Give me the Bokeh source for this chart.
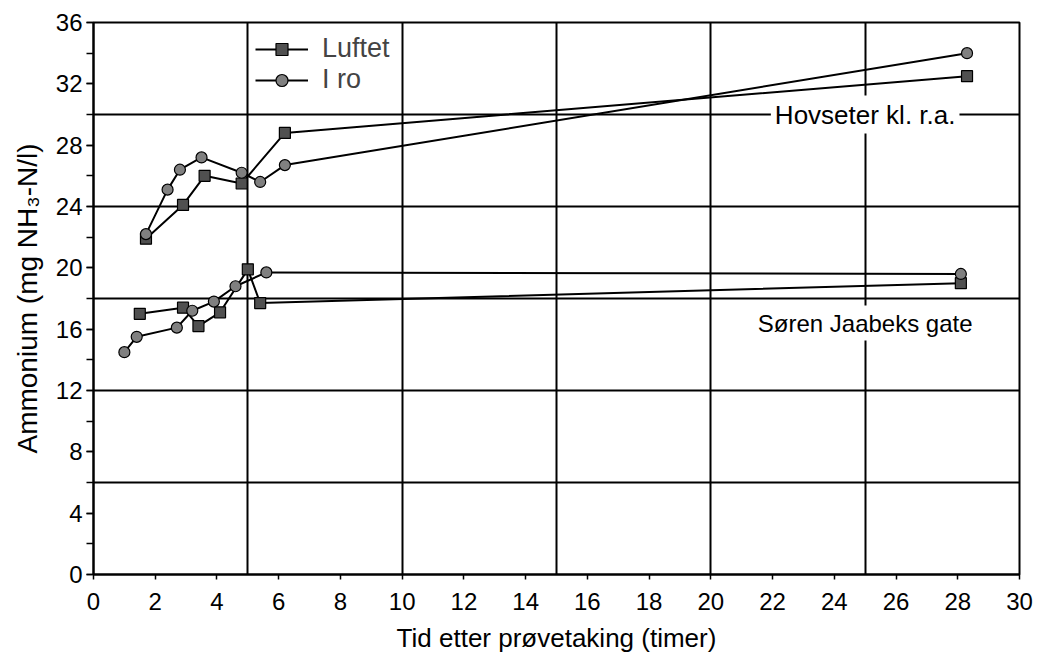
from bokeh.plotting import figure
from bokeh.models import (Range1d, SingleIntervalTicker, FixedTicker, Label,
                          Legend, LegendItem)
from bokeh.embed import file_html
from bokeh.resources import INLINE

# ---- data ----
hov_luftet_x = [1.7, 2.9, 3.6, 4.8, 6.2, 28.3]
hov_luftet_y = [21.9, 24.1, 26.0, 25.5, 28.8, 32.5]
hov_iro_x = [1.7, 2.4, 2.8, 3.5, 4.8, 5.4, 6.2, 28.3]
hov_iro_y = [22.2, 25.1, 26.4, 27.2, 26.2, 25.6, 26.7, 34.0]
sor_luftet_x = [1.5, 2.9, 3.4, 4.1, 5.0, 5.4, 28.1]
sor_luftet_y = [17.0, 17.4, 16.2, 17.1, 19.9, 17.7, 19.0]
sor_iro_x = [1.0, 1.4, 2.7, 3.2, 3.9, 4.6, 5.6, 28.1]
sor_iro_y = [14.5, 15.5, 16.1, 17.2, 17.8, 18.8, 19.7, 19.6]

series_names = ["Luftet", "I ro"]
station_names = ["Hovseter kl. r.a.", "Søren Jaabeks gate"]
x_title = "Tid etter prøvetaking (timer)"
y_title = "Ammonium (mg NH₃-N/l)"

FONT = "Liberation Sans"

p = figure(width=1035, height=655, output_backend="svg", toolbar_location=None,
           x_range=Range1d(0, 30), y_range=Range1d(0, 36),
           min_border_left=93, min_border_right=16, min_border_top=22,
           min_border_bottom=81, background_fill_color="white",
           border_fill_color="white")

p.outline_line_color = "black"
p.outline_line_width = 2
p.outline_line_alpha = 1

# grid
p.xgrid.ticker = FixedTicker(ticks=[5, 10, 15, 20, 25])
p.ygrid.ticker = FixedTicker(ticks=[6, 12, 18, 24, 30])
for g in (p.xgrid, p.ygrid):
    g.grid_line_color = "black"
    g.grid_line_width = 2
    g.grid_line_alpha = 1

# axes
p.xaxis.ticker = SingleIntervalTicker(interval=2, num_minor_ticks=0)
p.yaxis.ticker = SingleIntervalTicker(interval=4, num_minor_ticks=2)
for ax in (p.xaxis, p.yaxis):
    ax.axis_line_color = "black"
    ax.axis_line_width = 2
    ax.major_tick_line_color = "black"
    ax.major_tick_line_width = 1.5
    ax.minor_tick_line_color = "black"
    ax.minor_tick_line_width = 1.5
    ax.major_tick_in = 0
    ax.minor_tick_in = 0
    ax.major_label_text_font = FONT
    ax.major_label_text_font_size = "24px"
    ax.major_label_text_color = "black"
    ax.axis_label_text_font = FONT
    ax.axis_label_text_font_style = "normal"
    ax.axis_label_text_color = "black"

p.xaxis.major_tick_out = 5
p.xaxis.major_label_standoff = 13
p.xaxis.axis_label = x_title
p.xaxis.axis_label_standoff = 10
p.xaxis.axis_label_text_font_size = "26px"
p.yaxis.major_tick_out = 7
p.yaxis.minor_tick_out = 7
p.yaxis.major_label_standoff = 4
p.yaxis.axis_label = y_title
p.yaxis.axis_label_standoff = 10
p.yaxis.axis_label_text_font_size = "28px"

LW = 2
SQ = dict(marker="square", size=11, fill_color="#505050", line_color="black", line_width=1.2)
CI = dict(marker="circle", size=11, fill_color="#808080", line_color="black", line_width=1.2)

l1 = p.line(hov_luftet_x, hov_luftet_y, line_color="black", line_width=LW)
s1 = p.scatter(hov_luftet_x, hov_luftet_y, **SQ)
l2 = p.line(hov_iro_x, hov_iro_y, line_color="black", line_width=LW)
s2 = p.scatter(hov_iro_x, hov_iro_y, **CI)
p.line(sor_luftet_x, sor_luftet_y, line_color="black", line_width=LW)
p.scatter(sor_luftet_x, sor_luftet_y, **SQ)
p.line(sor_iro_x, sor_iro_y, line_color="black", line_width=LW)
p.scatter(sor_iro_x, sor_iro_y, **CI)

# station labels (white background interrupts grid lines)
p.add_layout(Label(x=25, y=30, text=station_names[0], text_align="center",
                   text_baseline="middle", text_font=FONT, text_font_size="26px",
                   text_color="black", background_fill_color="white",
                   padding=4))
p.add_layout(Label(x=25, y=16.4, text=station_names[1], text_align="center",
                   text_baseline="middle", text_font=FONT, text_font_size="24px",
                   text_color="black", background_fill_color="white",
                   padding=4))

legend = Legend(items=[LegendItem(label=series_names[0], renderers=[l1, s1]),
                       LegendItem(label=series_names[1], renderers=[l2, s2])],
                location=(162, 479), orientation="vertical",
                glyph_width=53, glyph_height=30, label_height=30,
                spacing=0, padding=0, margin=0, label_standoff=14,
                label_text_font=FONT, label_text_font_size="27px",
                border_line_color=None, background_fill_alpha=0)
p.add_layout(legend)

open("out.html", "w").write(file_html(p, INLINE))
